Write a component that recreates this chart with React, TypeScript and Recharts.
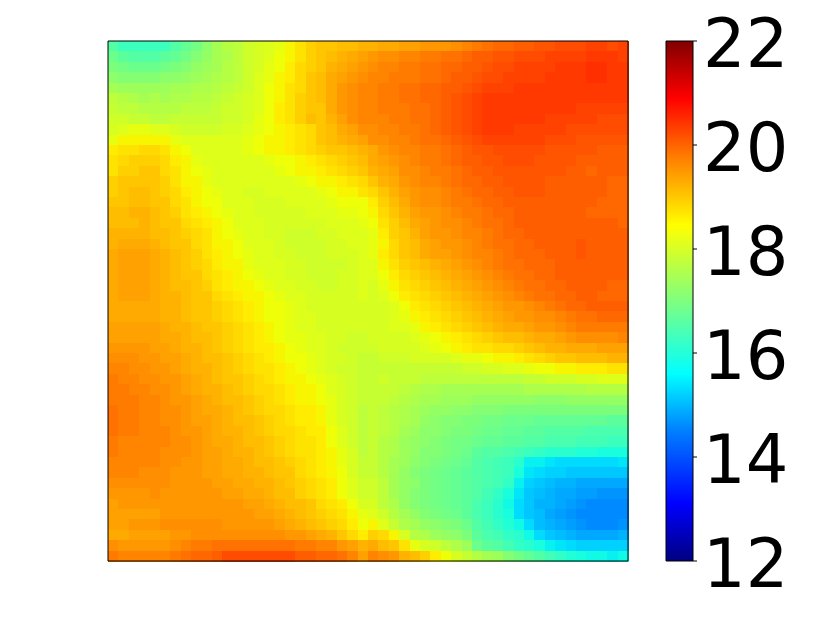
import React from 'react';
import { ScatterChart, Scatter, BarChart, Bar, XAxis, YAxis } from 'recharts';

// Heat values, in tenths of a colourbar unit (194 = 19.4).
const row00 = [165,162,162,162,162,162,165,167,169,172,175,177,178,180,181,182,183,185,187,189,190,190,191,191,192,192,193,193,194,194,195,195,195,196,197,198,199,200,200,201,201,202,202,203,203,203,204,204,203,204];
const row01 = [168,166,165,165,165,166,167,169,171,173,175,176,178,180,181,182,184,185,187,189,190,191,192,193,194,195,196,196,197,197,198,198,199,199,200,201,201,202,202,203,203,203,204,204,204,204,205,205,205,204];
const row02 = [170,169,168,168,168,169,170,171,173,174,175,177,178,180,181,183,184,186,188,189,190,192,193,194,195,196,197,197,198,198,199,199,200,200,201,201,202,203,203,204,204,204,204,205,205,205,206,206,205,205];
const row03 = [172,171,171,171,171,172,172,173,174,175,176,177,178,180,182,183,185,186,188,190,191,193,194,195,196,197,197,198,198,198,199,199,200,201,201,202,203,203,204,204,204,204,205,205,205,205,206,206,205,205];
const row04 = [175,174,174,174,174,174,175,175,176,176,177,178,179,180,182,184,185,187,188,190,191,193,195,196,197,197,198,198,199,199,200,200,201,201,202,203,204,204,204,205,205,205,205,205,205,205,205,205,205,205];
const row05 = [178,177,176,175,176,175,176,176,177,177,178,179,180,181,182,184,185,187,189,190,191,193,195,196,197,197,198,198,199,199,200,200,201,202,203,204,205,205,205,205,205,205,205,205,205,205,205,205,205,205];
const row06 = [179,178,178,177,177,177,177,178,178,178,179,180,180,181,182,184,186,187,189,190,190,193,195,196,197,197,198,198,198,199,199,200,201,202,203,204,205,205,205,205,205,205,205,205,205,204,204,204,204,204];
const row07 = [180,180,179,179,178,178,179,179,179,179,179,180,180,181,183,184,186,187,189,191,190,192,194,196,197,197,197,198,198,199,199,200,201,202,203,204,205,205,205,205,205,205,204,204,204,204,204,203,203,203];
const row08 = [181,182,183,183,182,182,181,180,180,180,180,181,181,182,183,184,185,186,187,188,190,191,193,194,196,196,197,197,198,198,199,200,201,202,203,204,205,205,205,204,204,204,204,204,203,203,203,203,203,203];
const row09 = [183,185,185,185,185,185,183,182,182,182,182,182,182,183,184,185,185,186,187,188,190,191,192,193,194,196,196,197,197,198,199,199,200,201,202,203,204,204,204,204,204,204,203,203,203,202,202,202,202,202];
const row10 = [186,187,187,188,188,187,185,184,182,182,182,182,182,183,184,185,185,186,187,188,189,190,190,191,192,193,195,196,197,197,198,198,199,200,201,202,202,203,203,203,203,203,202,202,202,202,202,201,201,201];
const row11 = [187,188,189,189,189,188,186,185,183,182,182,182,182,182,182,183,184,184,185,186,187,188,189,190,191,193,194,195,196,197,198,198,199,200,201,201,202,202,203,203,203,202,202,202,202,201,201,201,201,201];
const row12 = [187,189,189,190,190,188,187,185,184,183,182,182,182,182,182,182,183,184,185,185,186,187,188,189,190,192,193,194,196,196,197,198,198,199,200,201,201,202,202,202,202,202,202,202,201,201,200,201,201,201];
const row13 = [189,190,190,190,190,189,187,185,185,183,182,182,182,182,182,182,182,182,183,184,185,185,186,187,188,190,192,193,195,196,197,197,198,199,200,200,201,201,202,202,202,202,201,201,201,201,201,201,200,200];
const row14 = [189,190,191,191,190,189,188,186,185,184,183,182,182,181,181,182,182,182,182,182,183,184,185,185,187,188,190,192,194,195,196,196,197,198,199,200,200,201,201,202,202,202,201,201,201,201,201,201,200,200];
const row15 = [190,190,191,191,190,190,188,187,185,184,184,182,182,182,181,181,181,182,182,182,182,183,184,184,184,186,189,191,193,195,196,196,197,198,198,199,200,200,201,201,201,201,201,201,201,201,201,200,200,200];
const row16 = [191,191,192,192,191,190,189,187,186,185,184,183,182,182,181,181,181,181,181,182,182,182,183,183,184,185,188,190,192,194,195,195,196,197,198,198,199,200,200,201,201,201,201,201,201,201,200,200,200,200];
const row17 = [191,191,191,192,191,190,190,188,187,186,185,184,182,182,182,181,181,181,181,181,181,182,182,182,183,184,187,189,191,193,194,195,196,196,197,198,199,199,200,201,201,201,201,201,201,201,201,201,201,200];
const row18 = [192,192,192,192,191,191,190,189,188,187,185,184,183,182,182,181,181,180,180,180,181,181,182,182,182,183,186,189,190,192,194,195,195,196,197,197,198,199,200,200,201,201,201,201,201,201,201,201,201,201];
const row19 = [192,193,193,193,192,191,190,190,188,187,185,185,184,182,182,182,181,180,180,180,180,181,181,182,182,183,185,188,190,191,193,194,195,195,196,197,198,199,199,200,200,201,201,201,201,202,201,201,201,201];
const row20 = [193,194,194,194,193,192,191,190,189,187,186,185,184,183,182,182,181,181,180,180,180,181,181,181,182,183,186,188,190,191,193,194,194,195,196,197,197,198,199,200,200,200,201,201,201,202,201,201,201,201];
const row21 = [193,194,194,194,193,192,191,190,189,188,186,185,185,183,182,182,182,181,181,180,180,180,180,181,182,182,185,187,189,190,191,192,193,194,195,196,197,198,199,199,200,200,200,201,201,201,201,201,201,201];
const row22 = [193,194,194,194,193,192,191,190,190,188,187,186,185,184,183,182,182,181,181,180,180,180,181,181,182,182,184,186,188,189,190,191,192,193,194,195,196,197,198,199,199,200,200,201,201,201,201,201,201,201];
const row23 = [193,194,194,194,193,192,191,191,190,189,187,186,185,185,184,183,182,182,181,181,180,180,181,181,182,181,183,185,187,188,189,190,191,192,193,194,195,196,197,198,199,199,200,200,201,201,201,201,200,200];
const row24 = [193,194,194,194,193,192,192,191,190,190,188,187,186,185,185,184,183,182,182,181,181,181,181,181,182,181,182,184,186,187,188,189,190,191,192,193,194,195,196,197,198,199,199,200,200,201,201,200,200,200];
const row25 = [193,193,193,193,193,192,192,191,190,190,189,188,187,186,185,184,184,183,182,181,181,181,181,181,181,181,181,182,184,186,187,188,189,190,191,192,193,194,195,195,196,197,198,199,200,200,201,201,201,201];
const row26 = [193,193,193,193,193,192,192,191,190,190,189,188,187,186,185,184,184,183,182,182,181,181,181,181,181,181,181,182,183,185,186,187,188,189,190,191,192,193,194,195,195,196,196,197,198,199,199,200,200,200];
const row27 = [194,194,194,194,194,193,192,192,191,190,190,189,188,187,186,185,184,183,182,182,181,181,181,181,181,181,181,182,182,183,185,186,187,188,189,190,191,192,193,193,194,195,195,196,197,198,198,198,198,198];
const row28 = [194,194,194,194,194,193,193,192,191,191,190,189,188,187,186,185,184,183,183,182,182,181,181,180,180,181,181,181,181,182,183,184,185,186,187,188,189,190,191,191,192,193,193,194,195,196,196,196,196,197];
const row29 = [195,195,195,195,194,194,193,192,192,191,190,189,188,187,186,186,185,184,183,182,182,181,180,180,180,180,181,181,181,181,182,183,184,185,186,187,187,188,188,189,190,191,192,192,193,193,193,194,194,194];
const row30 = [196,196,196,195,195,194,194,193,192,191,191,190,189,188,187,186,185,184,184,183,182,181,181,180,179,179,180,180,180,181,181,181,181,182,183,183,184,185,185,186,187,188,189,190,190,191,191,191,192,192];
const row31 = [197,197,196,196,195,195,194,193,192,192,191,190,189,188,187,187,186,185,184,183,182,181,180,180,179,179,179,179,179,179,179,179,179,179,180,180,181,181,182,182,183,184,184,185,185,186,186,186,187,187];
const row32 = [198,197,197,196,196,195,195,194,193,192,191,190,190,189,188,187,186,185,185,184,183,182,181,180,179,179,180,179,179,179,178,178,178,178,178,178,178,178,178,178,179,179,180,180,180,181,181,182,182,182];
const row33 = [198,198,197,197,196,196,195,194,193,192,192,191,190,189,188,188,187,186,185,185,184,182,181,180,179,179,179,179,178,177,176,176,175,175,175,175,175,175,175,175,176,176,176,176,176,176,177,177,177,177];
const row34 = [198,198,198,197,197,196,195,195,194,193,192,191,191,190,189,188,187,186,185,185,184,183,181,180,179,179,179,178,177,176,175,175,174,174,174,173,173,173,173,173,173,172,172,172,173,173,173,173,173,173];
const row35 = [199,198,198,197,197,196,196,195,194,193,193,192,191,190,189,188,188,187,186,186,185,183,181,180,178,179,178,177,176,175,174,173,173,172,172,171,171,171,170,170,170,170,170,170,170,170,170,170,170,170];
const row36 = [199,198,198,197,197,196,196,195,194,194,193,192,191,191,190,189,188,187,186,186,185,183,181,180,178,179,178,177,176,175,173,172,171,171,170,170,169,169,168,168,168,167,167,167,167,167,167,167,166,166];
const row37 = [199,198,198,197,197,197,196,195,195,194,193,192,192,191,190,189,188,188,187,186,186,184,182,180,178,179,178,177,175,174,172,172,171,170,170,169,168,168,167,167,166,166,165,165,165,165,164,164,164,164];
const row38 = [198,197,197,197,197,197,196,196,195,194,193,193,192,191,191,190,189,188,187,187,186,184,182,180,178,179,177,176,174,173,172,171,170,169,169,168,167,167,166,166,165,165,164,164,164,163,163,163,162,162];
const row39 = [198,197,197,197,197,196,196,196,195,194,194,193,192,192,191,190,189,188,187,187,186,185,183,181,178,179,177,176,174,173,171,171,170,169,168,166,165,165,164,163,162,161,160,160,160,159,159,158,158,158];
const row40 = [197,197,197,197,197,196,196,195,195,194,194,193,193,192,191,191,190,189,188,187,186,185,183,181,179,179,177,175,174,172,171,170,169,168,167,165,164,163,162,160,156,156,155,154,154,154,154,154,154,155];
const row41 = [197,197,197,196,196,196,195,195,195,194,194,193,193,192,192,191,190,190,188,187,186,185,184,181,179,179,177,175,173,171,170,169,168,167,166,165,164,163,162,158,155,154,153,153,152,152,152,152,152,152];
const row42 = [196,196,196,196,196,196,195,195,195,195,194,194,193,193,192,192,191,190,189,188,187,186,184,182,180,180,178,175,173,172,170,169,168,167,166,165,164,163,161,156,153,152,151,150,150,149,149,149,149,149];
const row43 = [195,195,195,195,196,195,195,195,195,195,195,194,194,193,193,192,191,191,189,188,187,186,184,182,180,180,178,175,173,171,170,169,168,167,166,165,163,161,158,155,152,151,150,149,149,148,148,147,147,147];
const row44 = [194,195,195,195,195,195,195,195,195,195,195,195,195,194,194,193,192,191,191,190,188,187,186,184,181,181,178,176,173,171,170,169,168,167,166,164,162,160,157,154,152,150,150,149,148,147,146,146,146,146];
const row45 = [194,194,194,194,194,195,195,195,195,195,195,195,195,195,194,194,193,192,191,190,189,188,187,185,183,182,180,177,175,173,171,170,169,168,166,164,162,160,158,154,152,151,149,148,147,146,146,146,146,146];
const row46 = [194,194,195,195,195,196,196,196,196,196,196,195,195,195,195,195,194,193,192,191,190,189,188,186,184,185,182,179,176,175,173,172,171,170,168,165,163,161,159,157,154,151,150,149,148,147,146,146,146,147];
const row47 = [193,193,194,194,194,194,195,195,196,196,196,196,196,196,196,196,196,195,195,194,193,192,190,188,186,189,188,185,181,177,176,174,173,172,170,166,164,163,161,160,157,154,152,151,150,149,149,149,149,150];
const row48 = [196,195,195,195,195,195,196,197,198,198,199,199,199,199,199,199,199,199,198,198,197,197,195,194,192,193,191,190,187,183,181,180,178,176,174,168,166,165,163,161,160,158,156,155,154,153,153,153,153,153];
const row49 = [198,197,197,197,197,197,198,199,200,200,201,203,203,203,203,203,203,203,201,201,200,200,199,197,194,197,196,195,192,191,189,186,184,181,179,177,175,174,171,169,167,165,163,161,159,158,157,157,156,157];

const rows = [row00,row01,row02,row03,row04,row05,row06,row07,row08,row09,row10,row11,row12,row13,row14,row15,row16,row17,row18,row19,row20,row21,row22,row23,row24,row25,row26,row27,row28,row29,row30,row31,row32,row33,row34,row35,row36,row37,row38,row39,row40,row41,row42,row43,row44,row45,row46,row47,row48,row49];
const colorbarTicks = [12, 14, 16, 18, 20, 22];
const colorbarRange = [{ name: 'scale', range: [12, 22] }];
const frameRange = [{ name: 'frame', range: [0, 1] }];
const jetStops = ['#000080','#0000ff','#007fff','#00ffff','#7fff7f','#ffff00','#ff7f00','#ff0000','#800000'];
const jetOffsets = [0, 0.11, 0.25, 0.36, 0.5, 0.645, 0.775, 0.89, 1];

const N = rows.length;
const PLOT = 520;
const cell = PLOT / N;

const clamp = (v: number) => Math.max(0, Math.min(1, v));
function jet(v: number) {
  const t = clamp((v - 12) / 10);
  const r = t < 0.89 ? clamp((t - 0.35) / 0.31) : 1 - ((t - 0.89) / 0.11) * 0.5;
  const g = t < 0.64 ? clamp((t - 0.125) / 0.25) : clamp(1 - (t - 0.64) / 0.27);
  const b = t < 0.34 ? (t < 0.11 ? 0.5 + (t / 0.11) * 0.5 : 1) : clamp(1 - (t - 0.34) / 0.31);
  return `rgb(${Math.round(r * 255)},${Math.round(g * 255)},${Math.round(b * 255)})`;
}

const points = rows.flatMap((row, j) => row.map((v, i) => ({ x: i + 0.5, y: j + 0.5, v: v / 10 })));

const CellShape = (props: any) => (
  <rect x={props.cx - cell / 2} y={props.cy - cell / 2} width={cell + 0.5} height={cell + 0.5}
    fill={jet(props.payload.v)} shapeRendering="crispEdges" />
);

const layer = { position: 'absolute', left: 0, top: 0 } as const;

export default function App() {
  return (
    <div style={{ position: 'absolute', left: 0, top: 0, width: 822, height: 617, background: '#fff' }}>
      <div style={layer}>
        <ScatterChart width={822} height={617} margin={{ left: 108, top: 41, right: 194, bottom: 56 }}>
          <XAxis type="number" dataKey="x" domain={[0, N]} hide />
          <YAxis type="number" dataKey="y" domain={[0, N]} reversed hide />
          <Scatter data={points} isAnimationActive={false} shape={CellShape} />
        </ScatterChart>
      </div>
      <div style={layer}>
        <BarChart width={822} height={617} data={frameRange} margin={{ left: 108, top: 41, right: 194, bottom: 56 }} barCategoryGap={0}>
          <XAxis dataKey="name" hide />
          <YAxis type="number" domain={[0, 1]} hide />
          <Bar dataKey="range" fill="none" stroke="#000" strokeWidth={1} isAnimationActive={false} />
        </BarChart>
      </div>
      <div style={layer}>
        <BarChart width={822} height={617} data={colorbarRange} margin={{ left: 666, top: 41, right: 0, bottom: 56 }} barCategoryGap={0}>
          <defs>
            <linearGradient id="jetBar" x1="0" y1="1" x2="0" y2="0">
              {jetStops.map((c, i) => <stop key={c} offset={jetOffsets[i]} stopColor={c} />)}
            </linearGradient>
          </defs>
          <XAxis dataKey="name" hide />
          <YAxis type="number" orientation="right" domain={[12, 22]} ticks={colorbarTicks} interval={0}
            width={129} axisLine={false} tickSize={4} tickMargin={6}
            tick={{ fontSize: 67, fill: '#000', fontFamily: 'DejaVu Sans', dy: 2 }} tickLine={{ stroke: '#000' }} />
          <Bar dataKey="range" fill="url(#jetBar)" stroke="#000" strokeWidth={1} isAnimationActive={false} />
        </BarChart>
      </div>
    </div>
  );
}
